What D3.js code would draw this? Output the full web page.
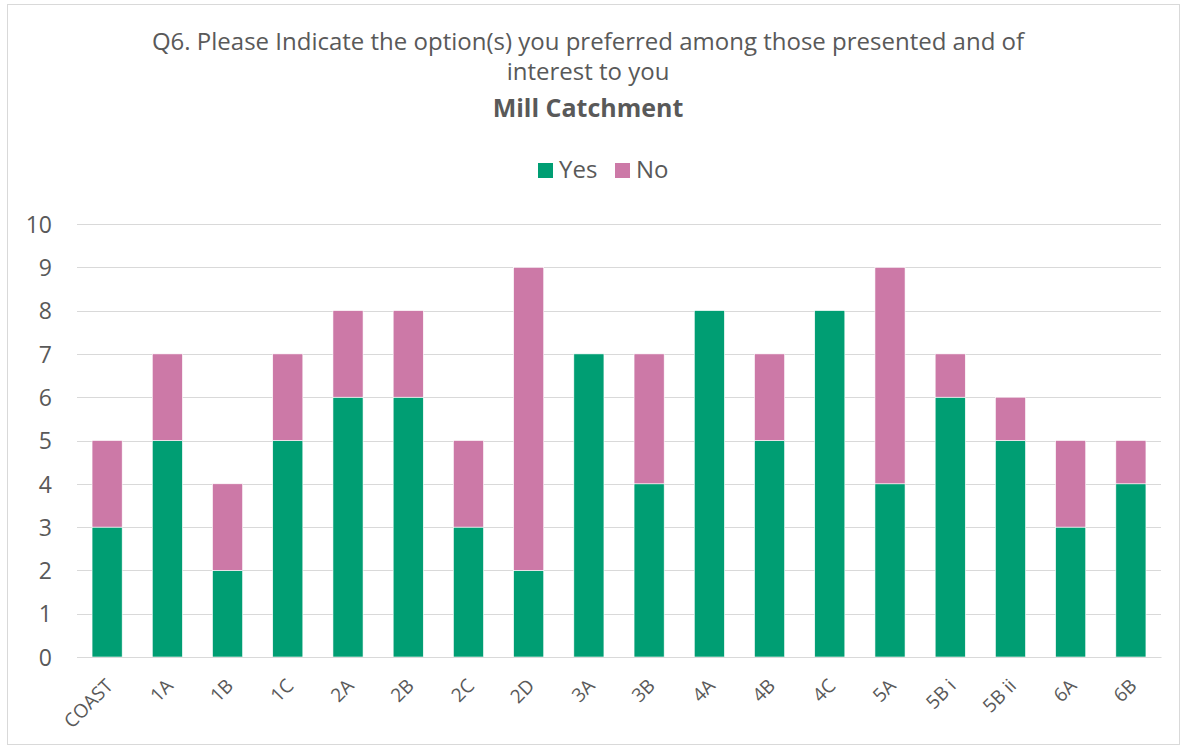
<!DOCTYPE html>
<html><head><meta charset="utf-8">
<script src="https://cdn.jsdelivr.net/npm/d3@7"></script>
<style>body{margin:0;background:#fff}svg{display:block}</style>
</head><body><svg id="c" width="1184" height="748"></svg>
<script>
const categories = ["COAST","1A","1B","1C","2A","2B","2C","2D","3A","3B","4A","4B","4C","5A","5B i","5B ii","6A","6B"];
const yesValues = [3,5,2,5,6,6,3,2,7,4,8,5,8,4,6,5,3,4];
const noValues  = [2,2,2,2,2,2,2,7,0,3,0,2,0,5,1,1,2,1];
const seriesNames = ["Yes","No"];
const yTicks = [0,1,2,3,4,5,6,7,8,9,10];
const colors = {Yes:"#009E73", No:"#CC79A7"};

const svg = d3.select("#c");
const font = "'Open Sans', sans-serif";
svg.append("rect").attr("x",7.5).attr("y",4.5).attr("width",1172).attr("height",740)
  .attr("fill","#fff").attr("stroke","#d9d9d9").attr("stroke-width",1);

const m = {left:77, right:1161, top:224, bottom:657};
const x = d3.scaleBand().domain(categories).range([m.left,m.right]).paddingInner(0.5).paddingOuter(0.25);
const y = d3.scaleLinear().domain([0,10]).range([m.bottom,m.top]);

// grid
svg.append("g").selectAll("line").data(yTicks).join("line")
  .attr("x1",m.left).attr("x2",m.right)
  .attr("y1",d=>Math.round(y(d))+0.5).attr("y2",d=>Math.round(y(d))+0.5)
  .attr("stroke","#d9d9d9").attr("stroke-width",1);

// stack
const rows = categories.map((c,i)=>({cat:c, Yes:yesValues[i], No:noValues[i]}));
const stacked = d3.stack().keys(seriesNames)(rows);
svg.append("g").selectAll("g").data(stacked).join("g")
  .attr("fill",d=>colors[d.key])
  .selectAll("rect").data(d=>d.filter(p=>p[1]-p[0]>0)).join("rect")
  .attr("x",d=>x(d.data.cat)).attr("width",x.bandwidth())
  .attr("y",d=>y(d[1])).attr("height",d=>y(d[0])-y(d[1]))
  .attr("stroke","#ffffff").attr("stroke-width",0.6);

// y axis labels
const yAxis = d3.axisLeft(y).tickValues(yTicks).tickSize(0).tickPadding(0);
const ga = svg.append("g").attr("transform",`translate(52,0)`).call(yAxis);
ga.select(".domain").remove();
ga.selectAll("text").attr("font-family",font).attr("font-size",23).attr("fill","#595959").attr("dy","0.36em");

// x axis
const xAxis = d3.axisBottom(x).tickSize(0);
const gx = svg.append("g").attr("transform",`translate(0,${m.bottom})`).call(xAxis);
gx.select(".domain").attr("stroke","#d9d9d9");
gx.selectAll("text").attr("font-family",font).attr("font-size",19).attr("fill","#595959")
  .attr("text-anchor","end").attr("dy",0).attr("y",0)
  .attr("transform","translate(7,30) rotate(-45)");

// title
const t = svg.append("g").attr("font-family",font).attr("fill","#595959").attr("text-anchor","middle");
t.append("text").attr("x",588).attr("y",50).attr("font-size",24).text("Q6. Please Indicate the option(s) you preferred among those presented and of");
t.append("text").attr("x",588).attr("y",80).attr("font-size",24).text("interest to you");
t.append("text").attr("x",588).attr("y",117).attr("font-size",25).attr("font-weight","bold").text("Mill Catchment");

// legend
const lg = svg.append("g").attr("font-family",font);
const lx=[538,615];
seriesNames.forEach((s,i)=>{
  lg.append("rect").attr("x",lx[i]).attr("y",163).attr("width",15).attr("height",15).attr("fill",colors[s]);
  lg.append("text").attr("x",lx[i]+21).attr("y",178).attr("font-size",24).attr("fill","#595959").text(s);
});
</script></body></html>
